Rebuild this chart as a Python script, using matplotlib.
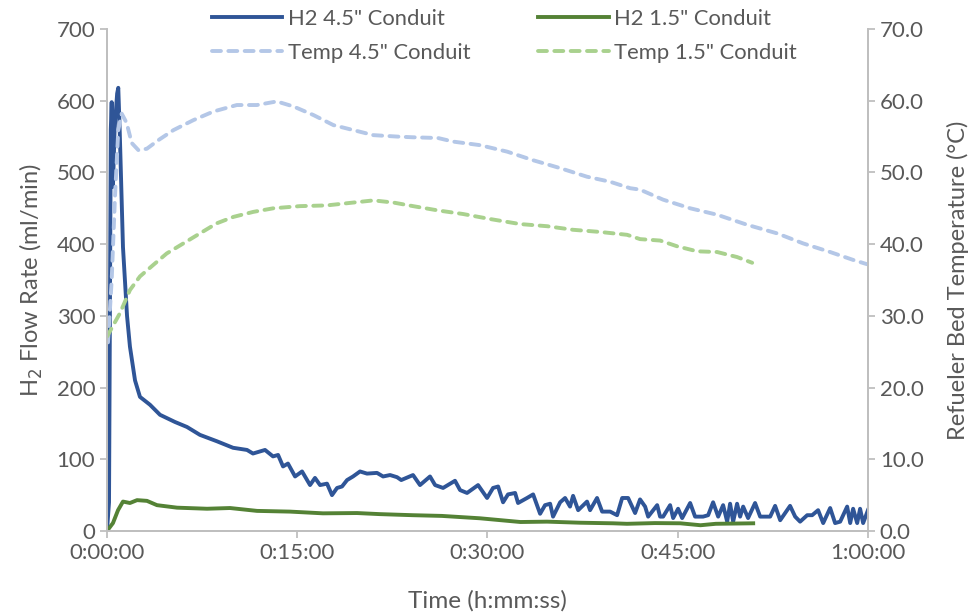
import numpy as np
import matplotlib
matplotlib.use("Agg")
import matplotlib.pyplot as plt
from matplotlib.ticker import FuncFormatter, MultipleLocator

# time in minutes
t_h2_45 = [0, 0.16, 0.30, 0.37, 0.47, 0.60, 0.80, 0.89, 1.00, 1.26, 1.58, 1.81, 2.21, 2.60,
           3.39, 4.18, 5.36, 6.31, 7.33, 8.68, 9.94, 11.04, 11.51, 12.46, 13.09, 13.49, 13.88,
           14.27, 14.83, 15.38, 16.01, 16.40, 16.80, 17.35, 17.74, 18.14, 18.53, 18.93, 19.40,
           19.95, 20.50, 21.29, 21.77, 22.32, 22.87, 23.20, 24.13, 24.68, 25.47, 25.87, 26.50,
           27.44, 27.84, 28.39, 29.26, 29.97, 30.44, 30.84, 31.23, 31.62, 32.18, 32.41, 33.12,
           33.60, 34.15, 34.54, 34.94, 35.17, 35.73, 36.12, 36.51, 36.75, 37.15, 37.85, 38.09,
           38.64, 39.04, 39.67, 40.22, 40.62, 41.09, 41.64, 42.03, 42.43, 42.67, 43.38, 43.61,
           43.85, 44.40, 44.64, 45.03, 45.35, 45.98, 46.37, 47.00, 47.40, 47.79, 48.19, 48.58,
           48.90, 49.13, 49.37, 49.68, 49.92, 50.16, 50.55, 51.10, 51.50, 52.29, 52.68, 53.08,
           53.86, 54.26, 54.65, 55.21, 55.60, 56.07, 56.47, 57.02, 57.41, 57.81, 58.36, 58.60,
           58.83, 59.15, 59.38, 59.62, 60.0]
h2_45 = [0, 40, 560, 598, 480, 560, 610, 618, 560, 396, 300, 257, 210, 187,
         176, 162, 152, 145, 134, 125, 116, 113, 108, 113, 104, 106, 90,
         94, 76, 83, 64, 74, 64, 66, 50, 60, 62, 71, 76,
         83, 80, 81, 76, 78, 75, 71, 78, 64, 76, 64, 60,
         70, 57, 53, 64, 46, 60, 62, 40, 51, 53, 39, 46,
         51, 24, 36, 38, 20, 40, 46, 34, 49, 29, 41, 29,
         46, 27, 27, 22, 46, 46, 25, 44, 34, 20, 36, 20,
         20, 36, 18, 31, 18, 39, 20, 20, 22, 40, 20, 36,
         13, 38, 13, 38, 20, 34, 18, 39, 20, 20, 35, 15,
         35, 20, 13, 22, 22, 29, 11, 32, 11, 13, 34, 11,
         31, 11, 31, 11, 29]

t_h2_15 = [0, 0.47, 0.87, 1.26, 1.81, 2.37, 3.15, 3.94, 5.52, 7.89, 9.70, 11.83, 14.43,
           17.03, 19.71, 21.50, 24.10, 26.40, 29.40, 32.60, 34.70, 37.30, 39.90, 41.00,
           43.20, 45.20, 46.80, 48.00, 50.95]
h2_15 = [0, 11, 29, 41, 39, 43, 42, 36, 32.5, 31, 32, 28, 27,
         24.6, 25, 23.5, 22, 21, 17.7, 12.5, 13, 11.5, 10.7, 10,
         11, 10.7, 8, 10, 10.7]

t_temp_45 = [0.08, 0.37, 0.63, 0.89, 1.16, 1.55, 1.95, 2.48, 3.14, 4.05, 5.24, 6.82, 8.40,
             10.24, 11.82, 13.39, 14.70, 16.28, 17.85, 19.43, 21.01, 22.87, 24.13, 26.10,
             27.29, 29.42, 31.55, 33.60, 35.73, 37.85, 39.67, 41.25, 42.03, 43.85, 45.98,
             48.11, 50.47, 52.84, 54.89, 57.02, 58.83, 59.93]
temp_45 = [26.3, 35.0, 46.6, 55.9, 58.2, 56.9, 54.1, 53.1, 53.3, 54.5, 55.9, 57.3, 58.5,
           59.4, 59.4, 59.9, 59.2, 58.0, 56.6, 55.9, 55.2, 55.0, 54.9, 54.8,
           54.3, 53.8, 52.9, 51.7, 50.6, 49.4, 48.7, 47.8, 47.6, 46.2, 45.0,
           44.1, 42.7, 41.5, 40.1, 38.9, 37.8, 37.2]

t_temp_15 = [0.0, 1.03, 1.81, 2.60, 3.65, 4.71, 6.02, 7.33, 8.65, 9.97, 11.54, 13.12, 15.22,
             17.32, 19.43, 21.01, 22.58, 24.13, 26.10, 28.08, 30.21, 32.57, 34.70, 36.75,
             38.88, 41.01, 42.03, 43.61, 44.95, 46.53, 48.11, 49.68, 50.87]
temp_15 = [27.1, 30.4, 33.6, 35.5, 37.1, 38.7, 40.1, 41.5, 42.9, 43.8, 44.5, 45.0, 45.3,
           45.4, 45.8, 46.1, 45.8, 45.3, 44.7, 44.2, 43.5, 42.8, 42.5, 42.0,
           41.7, 41.3, 40.7, 40.5, 39.7, 39.0, 38.9, 38.2, 37.4]

x_ticks = [0, 15, 30, 45, 60]

GRAY = "#595959"
SPINE = "#BFBFBF"
plt.rcParams["font.family"] = ["Lato", "DejaVu Sans"]


def hms(v, pos=None):
    s = int(round(v * 60))
    return "%d:%02d:%02d" % (s // 3600, (s % 3600) // 60, s % 60)


fig = plt.figure(figsize=(9.7, 6.12), dpi=100)
ax = fig.add_axes([0.1103, 0.1324, 0.7845, 0.8202])
ax2 = ax.twinx()

lw = 2.8
l1, = ax.plot(t_h2_45, h2_45, color="#2F5597", lw=lw, solid_joinstyle="round",
              label='H2 4.5" Conduit')
l2, = ax.plot(t_h2_15, h2_15, color="#548235", lw=lw, solid_joinstyle="round",
              label='H2 1.5" Conduit')
l3, = ax2.plot(t_temp_45, temp_45, color="#B4C7E7", lw=lw, dashes=(2.3, 1.9),
               dash_capstyle="round", label='Temp 4.5" Conduit')
l4, = ax2.plot(t_temp_15, temp_15, color="#A9D18E", lw=lw, dashes=(2.3, 1.9),
               dash_capstyle="round", label='Temp 1.5" Conduit')

ax.set_xlim(0, 60)
ax.set_ylim(0, 700)
ax2.set_ylim(0, 70)
ax.set_xticks(x_ticks)
ax.xaxis.set_major_formatter(FuncFormatter(hms))
ax.yaxis.set_major_locator(MultipleLocator(100))
ax2.yaxis.set_major_locator(MultipleLocator(10))
ax2.yaxis.set_major_formatter(FuncFormatter(lambda v, p: "%.1f" % v))

for a in (ax, ax2):
    a.spines["top"].set_visible(False)
    for side in ("left", "right", "bottom"):
        a.spines[side].set_color(SPINE)
        a.spines[side].set_linewidth(1.3)
    a.tick_params(colors=SPINE, labelcolor=GRAY, labelsize=16, length=5, width=1.3)

ax.set_xlabel("Time (h:mm:ss)", fontsize=17.5, color=GRAY, labelpad=20)
ax.set_ylabel("H$_2$ Flow Rate (ml/min)", fontsize=17, color=GRAY, labelpad=8)
ax2.set_ylabel("Refueler Bed Temperature (°C)", fontsize=17, color=GRAY, labelpad=17)

fig.legend(handles=[l1, l3, l2, l4], ncol=2, loc="upper center",
           bbox_to_anchor=(0.52, 1.018), frameon=False, fontsize=15.8,
           handlelength=3.2, handletextpad=0.27, columnspacing=3.1,
           labelspacing=0.65, labelcolor=GRAY)

fig.savefig("out.png", dpi=100)
